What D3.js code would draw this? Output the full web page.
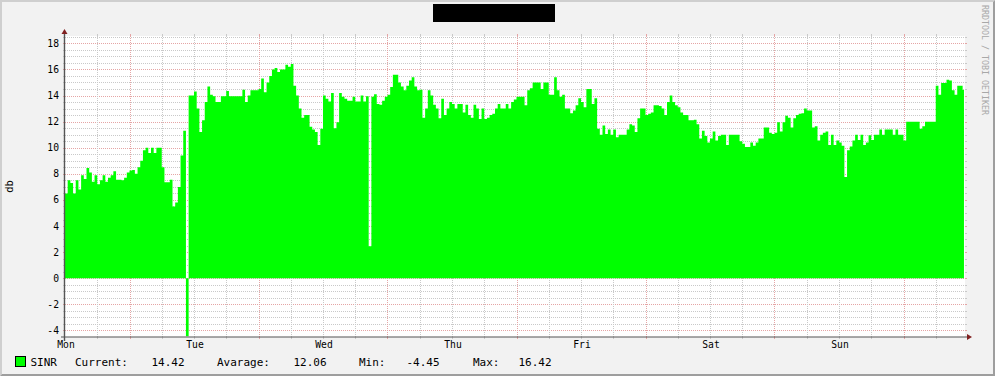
<!DOCTYPE html>
<html>
<head>
<meta charset="utf-8">
<script src="https://cdn.jsdelivr.net/npm/d3@7"></script>
<style>
  body { margin: 0; background: #f2f2f2; }
  svg { display: block; }
  text { font-family: "DejaVu Sans Mono", monospace; }
</style>
</head>
<body>
<svg width="995" height="376"></svg>
<script>
// SINR samples, one every 30 minutes starting Monday 00:00
var sinr = [
  6.5, 7.5, 7.3, 6.5, 7.5, 6.8, 7.9, 7.6, 8.45, 8.1,
  7.4, 7.9, 7.2, 7.5, 7.9, 7.4, 7.7, 7.9, 8.2, 7.55,
  7.55, 7.5, 7.7, 8.1, 8.25, 8.3, 8.0, 8.5, 9.0, 9.8,
  10.0, 9.6, 10.0, 9.6, 10.0, 10.0, 8.5, 7.35, 7.35, 7.55,
  5.5, 5.8, 7.0, 9.4, 11.3, -4.45, 14.0, 14.0, 14.3, 13.0,
  11.2, 12.1, 13.5, 14.7, 14.05, 13.95, 13.5, 13.5, 13.95, 13.95,
  14.35, 13.95, 13.95, 13.95, 13.95, 13.95, 14.45,
  13.5, 14.0, 14.4, 14.4, 14.4, 14.5, 15.3, 14.25, 15.0, 15.5,
  16.0, 16.1, 15.8, 16.0, 16.0, 16.35, 16.2, 16.42, 14.75, 14.0,
  13.0, 12.3, 12.5, 12.5, 11.6, 11.4, 11.2, 10.2, 11.45, 14.0,
  13.75, 13.55, 14.2, 11.5, 11.95, 14.2, 13.9, 13.75, 13.6, 13.6,
  13.9, 13.55, 13.55, 14.0, 13.55, 13.95, 2.45, 13.9, 14.1, 13.35,
  13.3, 13.6, 13.9, 14.05, 14.65, 15.6, 15.6, 15.0, 14.7, 14.4,
  14.75, 15.15, 15.4, 14.7, 14.4, 14.45, 12.3,
  13.0, 14.4, 14.0, 13.3, 13.0, 12.25, 13.75, 12.5, 13.0, 13.5,
  13.35, 13.0, 13.35, 13.35, 12.7, 13.3, 12.5, 12.3, 13.3, 13.0,
  12.2, 13.0, 12.2, 12.3, 12.5, 12.6, 13.0, 13.35, 13.0, 13.0,
  13.35, 13.0, 13.5, 13.7, 13.9, 13.9, 13.9, 13.25, 14.4, 14.55,
  15.0, 15.0, 15.0, 14.5, 15.0, 15.0, 14.05, 14.05, 15.4, 14.4,
  13.9, 14.05, 13.0, 13.0, 12.65, 12.85, 13.25, 13.8, 13.5, 13.1,
  14.5, 14.5, 13.35, 13.8, 11.45, 11.0, 11.7,
  11.05, 11.4, 11.0, 11.4, 10.8, 11.0, 11.0, 11.0, 11.4, 11.8,
  11.7, 11.2, 12.25, 13.0, 13.0, 12.5, 12.6, 12.7, 13.25, 13.25,
  13.2, 13.0, 12.5, 13.5, 14.0, 13.5, 13.25, 13.1, 12.7, 12.5,
  12.5, 12.1, 12.1, 12.15, 11.8, 10.7, 11.3, 10.9, 10.4, 10.7,
  11.25, 10.55, 10.9, 11.0, 11.0, 10.2, 11.0, 11.0, 11.0, 11.0,
  10.5, 10.3, 10.05, 10.05, 10.4, 10.15, 10.4, 10.7, 10.7, 11.55,
  11.55, 11.15, 11.05, 11.15, 11.95, 11.25, 11.95,
  12.45, 12.3, 11.55, 12.25, 12.5, 12.6, 12.65, 13.0, 12.85, 12.85,
  11.55, 11.65, 10.55, 11.0, 11.15, 11.25, 10.2, 11.0, 10.2, 10.55,
  10.4, 10.15, 7.75, 9.8, 10.1, 10.55, 11.0, 10.6, 11.0, 10.2,
  10.4, 10.95, 10.6, 11.0, 11.0, 11.4, 11.0, 11.4, 11.4, 11.4,
  11.0, 11.4, 11.0, 11.0, 10.55, 12.0, 12.0, 12.0, 12.0, 12.0,
  11.45, 11.65, 12.0, 12.0, 12.0, 12.0, 14.75, 14.05, 14.95, 14.95,
  15.2, 15.15, 14.4, 14.05, 14.75, 14.75, 14.42
];
var stepHours = 0.5;

var dayLabels = ["Mon", "Tue", "Wed", "Thu", "Fri", "Sat", "Sun"];
var yTicks = [-4, -2, 0, 2, 4, 6, 8, 10, 12, 14, 16, 18];
var legendNames = ["Current:", "Avarage:", "Min:", "Max:"];
var legendValues = ["14.42", "12.06", "-4.45", "16.42"];

var svg = d3.select("svg");
var W = 995, H = 376;
var plotL = 65, plotR = 965, plotT = 36, plotB = 337;

var x = d3.scaleLinear()
    .domain([0, (plotR - plotL) * 24 / 129])
    .range([plotL, plotR]);
var y = d3.scaleLinear()
    .domain([-4.5, 18.56])
    .range([plotB, plotT]);

// background + 3d border
svg.append("rect").attr("width", W).attr("height", H).attr("fill", "#f2f2f2");
svg.append("path")
    .attr("d", "M0," + H + "L2," + (H - 2) + "L2,2L" + (W - 2) + ",2L" + W + ",0L0,0Z")
    .attr("fill", "#cfcfcf");
svg.append("path")
    .attr("d", "M2," + (H - 2) + "L" + (W - 2) + "," + (H - 2) + "L" + (W - 2) + ",2L" + W + ",0L" + W + "," + H + "L0," + H + "Z")
    .attr("fill", "#9e9e9e");

// (redacted) title block
svg.append("rect").attr("x", 433).attr("y", 4).attr("width", 122).attr("height", 18).attr("fill", "#000");

// canvas
svg.append("rect").attr("x", plotL).attr("y", plotT).attr("width", plotR - plotL).attr("height", plotB - plotT).attr("fill", "#fff");

var minorCol = "#c9c9c9", majorCol = "#e5a5a5";
var grid = svg.append("g").attr("shape-rendering", "crispEdges");

function hLine(v, col) {
    var yy = Math.round(y(v)) + 0.5;
    grid.append("line").attr("x1", plotL).attr("x2", plotR).attr("y1", yy).attr("y2", yy)
        .attr("stroke", col).attr("stroke-dasharray", "1,1");
    grid.append("line").attr("x1", plotL - 2).attr("x2", plotL).attr("y1", yy).attr("y2", yy).attr("stroke", col);
    grid.append("line").attr("x1", plotR).attr("x2", plotR + 2).attr("y1", yy).attr("y2", yy).attr("stroke", col);
}
function vLine(h, col) {
    var xx = Math.round(x(h)) + 0.5;
    grid.append("line").attr("x1", xx).attr("x2", xx).attr("y1", plotT).attr("y2", plotB)
        .attr("stroke", col).attr("stroke-dasharray", "1,1");
    grid.append("line").attr("x1", xx).attr("x2", xx).attr("y1", plotT - 2).attr("y2", plotT).attr("stroke", col);
    grid.append("line").attr("x1", xx).attr("x2", xx).attr("y1", plotB).attr("y2", plotB + 2).attr("stroke", col);
}

// minor grid every 0.5 db / 6 hours, major every 2 db / day at noon
d3.range(-4, 18.6, 0.5).forEach(function (v) {
    if (v % 2 !== 0) hLine(v, minorCol);
});
yTicks.forEach(function (v) { hLine(v, majorCol); });
d3.range(6, x.domain()[1], 6).forEach(function (h) {
    if ((h - 12) % 24 !== 0) vLine(h, minorCol);
});
d3.range(12, x.domain()[1], 24).forEach(function (h) { vLine(h, majorCol); });

// SINR area
var pts = sinr.map(function (v, i) { return { t: i * stepHours, v: v }; });
pts.push({ t: sinr.length * stepHours - 0.25, v: sinr[sinr.length - 1] });

svg.append("clipPath").attr("id", "clip")
    .append("rect").attr("x", plotL).attr("y", plotT).attr("width", plotR - plotL).attr("height", plotB - plotT);

svg.append("path")
    .datum(pts)
    .attr("clip-path", "url(#clip)")
    .attr("fill", "#00ff00")
    .attr("d", d3.area()
        .curve(d3.curveStepAfter)
        .x(function (d) { return x(d.t); })
        .y0(y(0))
        .y1(function (d) { return y(d.v); }));

// axes
svg.append("line").attr("x1", plotL - 4).attr("x2", plotR + 4).attr("y1", plotB).attr("y2", plotB)
    .attr("stroke", "#555").attr("stroke-width", 1.2);
svg.append("line").attr("x1", plotL - 0.5).attr("x2", plotL - 0.5).attr("y1", plotB + 4).attr("y2", plotT - 4)
    .attr("stroke", "#555").attr("stroke-width", 1.4);
svg.append("path")
    .attr("d", "M" + (plotR + 2) + "," + (plotB - 3) + "L" + (plotR + 2) + "," + (plotB + 3) + "L" + (plotR + 7) + "," + plotB + "Z")
    .attr("fill", "#801f1f");
svg.append("path")
    .attr("d", "M" + (plotL - 3.5) + "," + (plotT - 2) + "L" + (plotL + 2.5) + "," + (plotT - 2) + "L" + (plotL - 0.5) + "," + (plotT - 7) + "Z")
    .attr("fill", "#801f1f");

// y tick labels
svg.append("g").selectAll("text")
    .data(yTicks)
    .join("text")
    .attr("x", plotL - 6)
    .attr("y", function (d) { return y(d); })
    .attr("dy", "0.36em")
    .attr("text-anchor", "end")
    .attr("font-size", 9.7)
    .attr("fill", "#000")
    .text(function (d) { return d; });

// day labels at midnight
svg.append("g").selectAll("text")
    .data(dayLabels)
    .join("text")
    .attr("x", function (d, i) { return x(i * 24) + 1; })
    .attr("y", 348)
    .attr("text-anchor", "middle")
    .attr("font-size", 9.7)
    .attr("fill", "#000")
    .text(function (d) { return d; });

// unit label
svg.append("text")
    .attr("transform", "translate(13," + ((plotT + plotB) / 2) + ") rotate(-90)")
    .attr("text-anchor", "middle")
    .attr("font-size", 10.5)
    .text("db");

// watermark
svg.append("text")
    .attr("transform", "translate(982,5) rotate(90)")
    .attr("font-size", 8.3)
    .attr("fill", "#a8a8a8")
    .text("RRDTOOL / TOBI OETIKER");

// legend
var lg = svg.append("g").attr("font-size", 11).attr("fill", "#000");
lg.append("rect").attr("x", 15.5).attr("y", 356.5).attr("width", 10).attr("height", 10)
    .attr("fill", "#00ff00").attr("stroke", "#000");
lg.append("text").attr("x", 30.5).attr("y", 366).text("SINR");
var nameX = [75, 217, 359, 473];
var valX = [151.5, 293.5, 406.5, 518.5];
legendNames.forEach(function (n, i) {
    lg.append("text").attr("x", nameX[i]).attr("y", 366).text(n);
    lg.append("text").attr("x", valX[i]).attr("y", 366).text(legendValues[i]);
});
</script>
</body>
</html>
